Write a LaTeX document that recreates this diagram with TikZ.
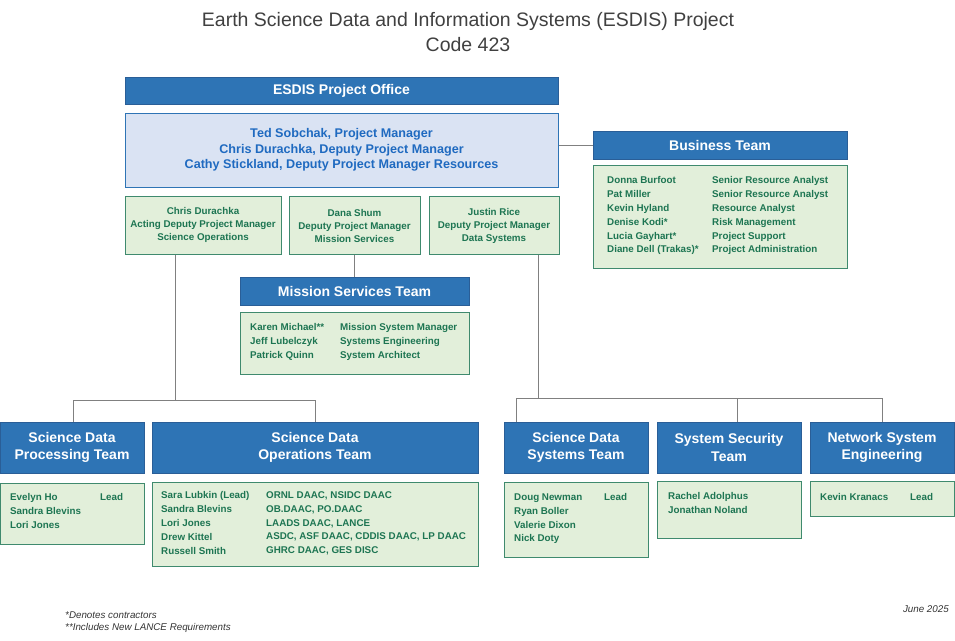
\documentclass[tikz,border=0pt]{standalone}
\usepackage{fontspec}
\setmainfont{Liberation Sans}
\definecolor{hblue}{HTML}{2E74B5}
\definecolor{hedge}{HTML}{2A5E97}
\definecolor{gfill}{HTML}{E2EFDA}
\definecolor{gedge}{HTML}{3F8A6E}
\definecolor{gtext}{HTML}{1D7552}
\definecolor{bfill}{HTML}{DAE3F3}
\definecolor{btext}{HTML}{1F6AC0}
\definecolor{lgray}{HTML}{808080}
\begin{document}
\begin{tikzpicture}[x=1pt,y=-1pt,
 hdr/.style={draw=hedge,fill=hblue,line width=1pt,text=white,font=\bfseries\fontsize{14}{17.5}\selectfont,align=center,inner sep=0pt},
 gbox/.style={draw=gedge,fill=gfill,line width=1pt,inner sep=0pt},
 gtx/.style={text=gtext,font=\bfseries\fontsize{9.8}{13.8}\selectfont,align=left,anchor=north west,inner sep=0pt,yshift=-2.5pt},
 gctr/.style={text=gtext,font=\bfseries\fontsize{9.8}{13}\selectfont,align=center,inner sep=0pt},
 conn/.style={draw=lgray,line width=1pt}]
\useasboundingbox (0,0) rectangle (955,640);
\node[font=\fontsize{19.5}{25}\selectfont,text=black!75,align=center] (title) at (468,32) {Earth Science Data and Information Systems (ESDIS) Project\\Code 423};
\newcommand{\bx}[6]{\node[#1,minimum width=#4-#2,minimum height=#5-#3] (#6) at ({(#2+#4)/2},{(#3+#5)/2}) {};}
\node[hdr,minimum width=433,minimum height=27] (office) at (341.5,90.5) {ESDIS Project Office};
\node[draw=hblue,fill=bfill,line width=1pt,minimum width=433,minimum height=74,text=btext,font=\bfseries\fontsize{12.6}{15.5}\selectfont,align=center] (pm) at (341.5,150) {Ted Sobchak, Project Manager\\Chris Durachka, Deputy Project Manager\\Cathy Stickland, Deputy Project Manager Resources};
% business
\node[hdr,minimum width=254,minimum height=28] (bus) at (720,145) {Business Team};
\bx{gbox}{593}{165}{847}{268}{busb}
\node[gtx] (busn) at (607,174) {Donna Burfoot\\Pat Miller\\Kevin Hyland\\Denise Kodi*\\Lucia Gayhart*\\Diane Dell (Trakas)*};
\node[gtx] (busr) at (712,174) {Senior Resource Analyst\\Senior Resource Analyst\\Resource Analyst\\Risk Management\\Project Support\\Project Administration};
\draw[conn] (pm.east |- bus.west) -- (bus.west);
% deputies
\node[gbox,minimum width=156,minimum height=58] (dep1) at (203,225) {};
\node[gctr] at (dep1) [yshift=0] {Chris Durachka\\Acting Deputy Project Manager\\Science Operations};
\node[gbox,minimum width=131,minimum height=58] (dep2) at (354.5,225) {};
\node[gctr] at (dep2) [yshift=-1] {Dana Shum\\Deputy Project Manager\\Mission Services};
\node[gbox,minimum width=130,minimum height=58] (dep3) at (494,225) {};
\node[gctr] at (dep3) [yshift=-1] {Justin Rice\\Deputy Project Manager\\Data Systems};
% mission services
\node[hdr,minimum width=229,minimum height=28] (mst) at (354.5,291) {Mission Services Team};
\bx{gbox}{240}{312}{469}{374}{mstb}
\node[gtx] at (250,321) {Karen Michael**\\Jeff Lubelczyk\\Patrick Quinn};
\node[gtx] at (340,321) {Mission System Manager\\Systems Engineering\\System Architect};
\draw[conn] (dep2.south) -- (mst.north);
% bottom headers
\node[hdr,minimum width=144,minimum height=51] (sdpt) at (72,447.5) {Science Data\\Processing Team};
\node[hdr,minimum width=326,minimum height=51] (sdot) at (315,447.5) {Science Data\\Operations Team};
\node[hdr,minimum width=144,minimum height=51] (sdst) at (576,447.5) {Science Data\\Systems Team};
\node[hdr,minimum width=144,minimum height=51] (sst) at (729,447.5) {System Security\\Team};
\node[hdr,minimum width=144,minimum height=51] (nse) at (882,447.5) {Network System\\Engineering};
% connectors
\coordinate (j1) at (175,400);
\coordinate (j2) at (538,398);
\draw[conn] (dep1.south -| j1) -- (j1);
\draw[conn] (73,422) -- (73,400) -- (315,400) -- (315,422);
\draw[conn] (dep3.south -| j2) -- (j2);
\draw[conn] (516,422) -- (516,398) -- (882,398) -- (882,422);
\draw[conn] (737,398) -- (737,422);
% bottom boxes
\bx{gbox}{0}{483}{144}{544}{sdptb}
\node[gtx] at (10,491) {Evelyn Ho\\Sandra Blevins\\Lori Jones};
\node[gtx] at (100,491) {Lead};
\bx{gbox}{152}{482}{478}{566}{sdotb}
\node[gtx] at (161,489) {Sara Lubkin (Lead)\\Sandra Blevins\\Lori Jones\\Drew Kittel\\Russell Smith};
\node[gtx] at (266,489) {ORNL DAAC, NSIDC DAAC\\OB.DAAC, PO.DAAC\\LAADS DAAC, LANCE\\ASDC, ASF DAAC, CDDIS DAAC, LP DAAC\\GHRC DAAC, GES DISC};
\bx{gbox}{504}{482}{648}{557}{sdstb}
\node[gtx] at (514,491) {Doug Newman\\Ryan Boller\\Valerie Dixon\\Nick Doty};
\node[gtx] at (604,491) {Lead};
\bx{gbox}{657}{481}{801}{538}{sstb}
\node[gtx] at (668,490) {Rachel Adolphus\\Jonathan Noland};
\bx{gbox}{810}{481}{954}{516}{nseb}
\node[gtx] at (820,491) {Kevin Kranacs};
\node[gtx] at (910,491) {Lead};
% footnotes
\node[anchor=west,font=\itshape\fontsize{9.8}{12}\selectfont,text=black!80,inner sep=0pt] (fn1) at (65,615) {*Denotes contractors};
\node[anchor=west,font=\itshape\fontsize{9.8}{12}\selectfont,text=black!80,inner sep=0pt] (fn2) at (65,628) {**Includes New LANCE Requirements};
\node[anchor=east,font=\itshape\fontsize{9.8}{12}\selectfont,text=black!80,inner sep=0pt] (date) at (949,609) {June 2025};
\end{tikzpicture}
\end{document}
